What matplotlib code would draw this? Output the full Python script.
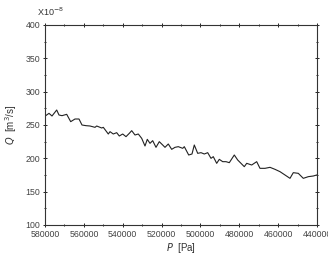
import numpy as np
import matplotlib
matplotlib.use('Agg')
import matplotlib.pyplot as plt
from matplotlib.ticker import MultipleLocator

plt.rcParams['font.family'] = ['Liberation Sans', 'DejaVu Sans']

# 压力 P [Pa] 与流量 Q [1e-8 m^3/s]
P = [579640, 577940, 576400, 573980, 572800, 571250, 568830, 566770, 564560,
     562500, 560960, 558900, 556840, 554260, 553390, 550820, 549990, 547420,
     546540, 544850, 543100, 541760, 540010, 538310, 536610, 535380, 533680,
     531980, 530230, 528530, 527350, 525960, 524570, 522870, 521170, 519420,
     518240, 516540, 514790, 513090, 511390, 509120, 508300, 506040, 504340,
     503160, 501410, 499710, 498010, 496260, 494560, 493380, 491630, 490290,
     488540, 486840, 485140, 482570, 480820, 479120, 477420, 476180, 473610,
     471040, 469340, 466770, 464190, 461620, 459050, 456470, 453900, 452200,
     449630, 447050, 444480, 441900, 440150]
Q = [264, 267.5, 263.5, 272.5, 265, 264, 266, 255, 259,
     259, 250, 249, 248.5, 246.5, 248.5, 245.5, 246.5, 236.5,
     240, 236.5, 238.5, 233.5, 236.5, 232.5, 237.5, 241.5, 235,
     236.5, 230, 218.5, 228.5, 222.5, 226.5, 216.5, 225, 220,
     216.5, 221.5, 213.5, 216.5, 217.5, 215, 217.5, 205, 206.5,
     220, 207.5, 208.5, 206.5, 208.5, 200, 202.5, 192.5, 198.5,
     195, 195, 193.5, 205, 197.5, 192.5, 187.5, 192.5, 190,
     195, 185, 185, 186.5, 183.5, 180, 175, 170, 178.5,
     177.5, 170, 172.5, 173.5, 175]

fig = plt.figure(figsize=(3.28, 2.57), dpi=100)
ax = fig.add_axes([45/328, 32/257, 272/328, 200/257])

ax.plot(P, Q, color='#222222', linewidth=0.8)

ax.set_xlim(580000, 440000)
ax.set_ylim(100, 400)
ax.xaxis.set_major_locator(MultipleLocator(20000))
ax.xaxis.set_minor_locator(MultipleLocator(10000))
ax.yaxis.set_major_locator(MultipleLocator(50))
ax.yaxis.set_minor_locator(MultipleLocator(25))
ax.tick_params(which='both', direction='inout', top=True, right=True,
               labelsize=6.3, labelcolor='#444444', pad=1.5, width=0.6)
ax.tick_params(which='major', length=3.5)
ax.tick_params(which='minor', length=2)
for s in ax.spines.values():
    s.set_linewidth(0.8)
    s.set_color('#333333')

ax.set_xlabel(r'$P$  [Pa]', fontsize=7, color='#333333', labelpad=2)
ax.set_ylabel(r'$Q$  [m$^3$/s]', fontsize=7, color='#333333', labelpad=5)
fig.text(37/328, 1 - 12/257, r'X10$^{-8}$', fontsize=6.5, color='#333333',
         va='center', ha='left')

fig.savefig('out.png', dpi=100)
